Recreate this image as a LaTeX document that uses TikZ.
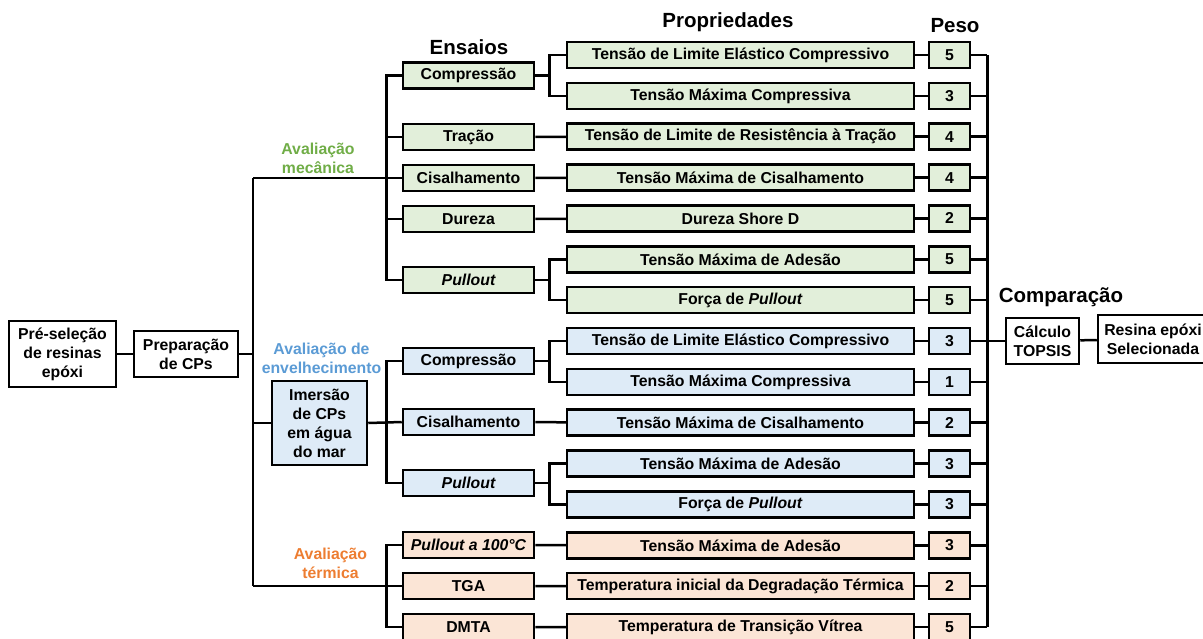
\documentclass[tikz,border=0pt]{standalone}
\usepackage{fontspec}
\setmainfont{Liberation Sans}
\definecolor{mfill}{HTML}{E2EFDA}
\definecolor{afill}{HTML}{DEEBF7}
\definecolor{tfill}{HTML}{FBE5D6}
\definecolor{mtext}{HTML}{70AD47}
\definecolor{atext}{HTML}{5B9BD5}
\definecolor{ttext}{HTML}{ED7D31}
\begin{document}
\begin{tikzpicture}[x=1pt,y=-1pt,
  every node/.style={font=\fontsize{15.8}{19}\selectfont\bfseries},
  line/.style={line width=2.5pt},
  box/.style={draw=black, line width=2.5pt, align=center, inner sep=0pt, minimum height=26pt},
  testbox/.style={box, minimum width=131pt},
  propbox/.style={box, minimum width=347pt},
  wbox/.style={box, minimum width=41pt},
  mf/.style={fill=mfill}, af/.style={fill=afill}, tf/.style={fill=tfill},
  header/.style={font=\fontsize{20.5}{24}\selectfont\bfseries},
  group/.style={align=center, font=\fontsize{15.8}{19}\selectfont\bfseries}]
\useasboundingbox (0,0) rectangle (1203,638);
\clip (0,0) rectangle (1203,638);

% headers
\node[header] (hEns) at (469,47) {Ensaios};
\node[header] (hProp) at (728,22) {Propriedades};
\node[header] (hPeso) at (955,26) {Peso};
\node[header] (hComp) at (1061,297) {Comparação};

% group labels
\node[group, text=mtext] (gMec) at (318,158) {Avaliação\\mecânica};
\node[group, text=atext] (gEnv) at (321.5,358.5) {Avaliação de\\envelhecimento};
\node[group, text=ttext] (gTer) at (330.5,563.5) {Avaliação\\térmica};

% left chain
\node[box, minimum width=107pt, minimum height=66pt] (presel) at (62.5,354) {Pré-seleção\\de resinas\\epóxi};
\node[box, minimum width=104pt, minimum height=46pt] (prep) at (186,354) {Preparação\\de CPs};
\node[box, af, minimum width=95pt, minimum height=84pt] (imersao) at (319.5,423) {Imersão\\de CPs\\em água\\do mar};

% tests
\node[testbox,mf] (m1) at (468.5,75.5) {Compressão};
\node[testbox,mf] (m2) at (468.5,137) {Tração};
\node[testbox,mf] (m3) at (468.5,178) {Cisalhamento};
\node[testbox,mf] (m4) at (468.5,219) {Dureza};
\node[testbox,mf] (m5) at (468.5,280) {\itshape Pullout};
\node[testbox,af] (a1) at (468.5,361) {Compressão};
\node[testbox,af] (a2) at (468.5,422) {Cisalhamento};
\node[testbox,af] (a3) at (468.5,483) {\itshape Pullout};
\node[testbox,tf] (t1) at (468.5,545) {\itshape Pullout a 100°C};
\node[testbox,tf] (t2) at (468.5,586) {TGA};
\node[testbox,tf] (t3) at (468.5,627) {DMTA};

% properties and weights
\foreach \i/\txt/\w/\f in {
  0/{Tensão de Limite Elástico Compressivo}/5/mf,
  1/{Tensão Máxima Compressiva}/3/mf,
  2/{Tensão de Limite de Resistência à Tração}/4/mf,
  3/{Tensão Máxima de Cisalhamento}/4/mf,
  4/{Dureza Shore D}/2/mf,
  5/{Tensão Máxima de Adesão}/5/mf,
  6/{Força de \textit{Pullout}}/5/mf,
  7/{Tensão de Limite Elástico Compressivo}/3/af,
  8/{Tensão Máxima Compressiva}/1/af,
  9/{Tensão Máxima de Cisalhamento}/2/af,
  10/{Tensão Máxima de Adesão}/3/af,
  11/{Força de \textit{Pullout}}/3/af,
  12/{Tensão Máxima de Adesão}/3/tf,
  13/{Temperatura inicial da Degradação Térmica}/2/tf,
  14/{Temperatura de Transição Vítrea}/5/tf}{
  \node[propbox,\f] (p\i) at (740.5,{55+40.86*\i}) {\txt};
  \node[wbox,\f] (w\i) at (949.5,{55+40.86*\i}) {\w};
  \draw[line] (p\i) -- (w\i);
  \draw[line] (w\i.east) -- ++(16,0);
}

% comparison
\node[box, minimum width=73pt, minimum height=46pt] (topsis) at (1042.5,341) {Cálculo\\TOPSIS};
\node[box, minimum width=110pt, minimum height=48pt] (resina) at (1153,339) {Resina epóxi\\Selecionada};

% trunk from preparation
\coordinate (trunkTop) at (253,178);
\coordinate (trunkBot) at (253,586);
\draw[line] (presel) -- (prep);
\draw[line] (prep.east) -- (prep.east -| trunkTop);
\draw[line] (trunkTop) -- (trunkBot);
\draw[line] (trunkTop) -- (m3.west);
\draw[line] (trunkBot) -- (t2.west);
\draw[line] (imersao.west -| trunkTop) -- (imersao.west);
\draw[line] (imersao.east) -- (a2.west);

% test buses
\draw[line] (m1.west) -- ++(-15.5,0) |- (m5.west);
\draw[line] (m2.west) -- ++(-15.5,0);
\draw[line] (m4.west) -- ++(-15.5,0);
\draw[line] (a1.west) -- ++(-15.5,0) |- (a3.west);
\draw[line] (t1.west) -- ++(-15.5,0) |- (t3.west);

% tests to properties
\foreach \t/\pa/\pb in {m1/p0/p1, m5/p5/p6, a1/p7/p8, a3/p10/p11}{
  \draw[line] (\t.east) -- ++(14,0) |- (\pa.west);
  \draw[line] (\t.east) -- ++(14,0) |- (\pb.west);
}
\foreach \t/\p in {m2/p2, m3/p3, m4/p4, a2/p9, t1/p12, t2/p13, t3/p14}{
  \draw[line] (\t) -- (\p);
}

% weights bus to comparison
\draw[line] (w0.east) ++(16,0) coordinate (busT) -- (w14.east -| busT);
\draw[line] (busT |- topsis.west) -- (topsis.west);
\draw[line] (topsis) -- (resina);
\end{tikzpicture}
\end{document}
